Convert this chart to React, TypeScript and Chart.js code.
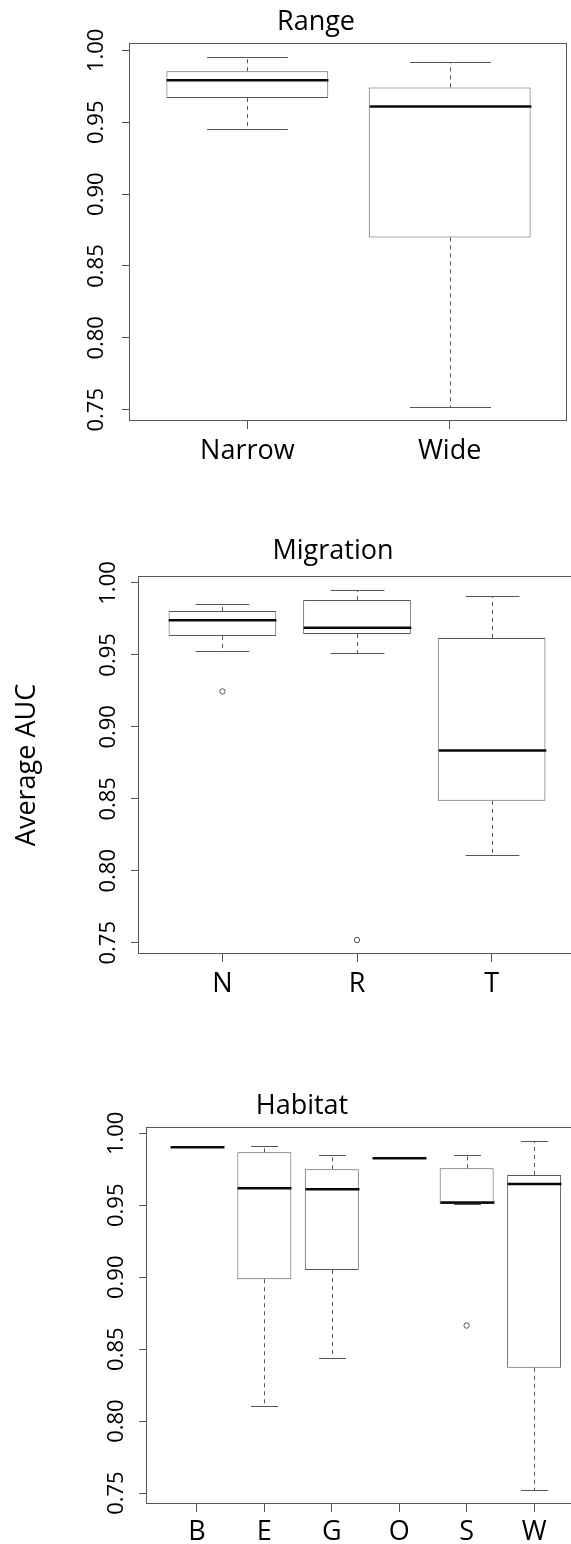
import React, { useEffect, useRef } from "react";
import { Chart, registerables } from "chart.js";

Chart.register(...registerables);

// ---------------- data ----------------
const yTickValues = [0.75, 0.8, 0.85, 0.9, 0.95, 1.0];
const yTickLabels = ["0.75", "0.80", "0.85", "0.90", "0.95", "1.00"];

const rangeCategories = ["Narrow", "Wide"];
const rangeLowerWhisker = [0.9454, 0.7519];
const rangeQ1 = [0.9668, 0.8699];
const rangeMedian = [0.9793, 0.9609];
const rangeQ3 = [0.9855, 0.9742];
const rangeUpperWhisker = [0.9954, 0.9918];
const rangeOutliers: number[][] = [[], []];

const migrationCategories = ["N", "R", "T"];
const migrationLowerWhisker = [0.9524, 0.951, 0.8108];
const migrationQ1 = [0.9631, 0.9645, 0.8486];
const migrationMedian = [0.974, 0.9689, 0.8836];
const migrationQ3 = [0.9805, 0.9882, 0.9618];
const migrationUpperWhisker = [0.9856, 0.9951, 0.9907];
const migrationOutliers: number[][] = [[0.9246], [0.7519], []];

const habitatCategories = ["B", "E", "G", "O", "S", "W"];
const habitatLowerWhisker = [0.9903, 0.8106, 0.8438, 0.9826, 0.9507, 0.7521];
const habitatQ1 = [0.9903, 0.8986, 0.9051, 0.9826, 0.9509, 0.8371];
const habitatMedian = [0.9903, 0.9618, 0.9611, 0.9826, 0.9519, 0.9648];
const habitatQ3 = [0.9903, 0.9868, 0.975, 0.9826, 0.9757, 0.971];
const habitatUpperWhisker = [0.9903, 0.9914, 0.9847, 0.9826, 0.9851, 0.9947];
const habitatOutliers: number[][] = [[], [], [], [], [0.8664], []];

const panelTitles = ["Range", "Migration", "Habitat"];
const yAxisTitle = "Average AUC";

// ---------------- styles / layout ----------------
const FONT = '"Open Sans", "Noto Sans", sans-serif';
const LINE = "#555555";
const MEDIAN = "#0a0a0a";
const TEXT = "#000000";
const BOX_HALF = 0.4;
const STAPLE = 0.5;
const CANVAS_W = 600;

type Area = { left: number; top: number; right: number; bottom: number };
type Layout = {
  top: number;
  height: number;
  area: Area;
  titleX: number;
  titleBaseline: number;
  yTickPad: number;
  xTickPad: number;
  yTitlePad?: number;
};

const layouts: Layout[] = [
  { top: 0, height: 480, area: { left: 130, top: 43, right: 567, bottom: 421 }, titleX: 316, titleBaseline: 29.5, yTickPad: 3.2, xTickPad: 6 },
  { top: 520, height: 500, area: { left: 139, top: 576, right: 575, bottom: 954 }, titleX: 333, titleBaseline: 558.5, yTickPad: 0.8, xTickPad: 6, yTitlePad: 10.8 },
  { top: 1060, height: 484, area: { left: 147, top: 1127, right: 584, bottom: 1504 }, titleX: 302, titleBaseline: 1113.5, yTickPad: 1, xTickPad: 4.5 },
];

type Panel = {
  title: string;
  categories: string[];
  lo: number[];
  q1: number[];
  med: number[];
  q3: number[];
  hi: number[];
  out: number[][];
  yTitle?: string;
};

const panels: Panel[] = [
  { title: panelTitles[0], categories: rangeCategories, lo: rangeLowerWhisker, q1: rangeQ1, med: rangeMedian, q3: rangeQ3, hi: rangeUpperWhisker, out: rangeOutliers },
  { title: panelTitles[1], categories: migrationCategories, lo: migrationLowerWhisker, q1: migrationQ1, med: migrationMedian, q3: migrationQ3, hi: migrationUpperWhisker, out: migrationOutliers, yTitle: yAxisTitle },
  { title: panelTitles[2], categories: habitatCategories, lo: habitatLowerWhisker, q1: habitatQ1, med: habitatMedian, q3: habitatQ3, hi: habitatUpperWhisker, out: habitatOutliers },
];

function makeBoxPlugin(panel: Panel, layout: Layout) {
  return {
    id: "boxLines",
    afterDatasetsDraw(chart: any) {
      const xs = chart.scales.x;
      const ys = chart.scales.y;
      const ctx = chart.ctx as CanvasRenderingContext2D;
      ctx.save();
      for (let i = 0; i < panel.categories.length; i++) {
        const cx = Math.round(xs.getPixelForValue(i + 1)) + 0.5;
        const half = xs.getPixelForValue(i + 1 + BOX_HALF) - xs.getPixelForValue(i + 1);
        const capHalf = half * STAPLE;
        const yLo = ys.getPixelForValue(panel.lo[i]);
        const yQ1 = ys.getPixelForValue(panel.q1[i]);
        const yMed = ys.getPixelForValue(panel.med[i]);
        const yQ3 = ys.getPixelForValue(panel.q3[i]);
        const yHi = ys.getPixelForValue(panel.hi[i]);
        ctx.strokeStyle = LINE;
        ctx.lineWidth = 1;
        ctx.setLineDash([4, 4]);
        ctx.beginPath();
        if (yHi < yQ3 - 0.5) {
          ctx.moveTo(cx, yQ3);
          ctx.lineTo(cx, yHi);
        }
        if (yLo > yQ1 + 0.5) {
          ctx.moveTo(cx, yQ1);
          ctx.lineTo(cx, yLo);
        }
        ctx.stroke();
        ctx.setLineDash([]);
        ctx.beginPath();
        ctx.moveTo(cx - capHalf, Math.round(yHi) + 0.5);
        ctx.lineTo(cx + capHalf, Math.round(yHi) + 0.5);
        ctx.moveTo(cx - capHalf, Math.round(yLo) + 0.5);
        ctx.lineTo(cx + capHalf, Math.round(yLo) + 0.5);
        ctx.stroke();
        ctx.strokeStyle = MEDIAN;
        ctx.lineWidth = 2.5;
        ctx.beginPath();
        ctx.moveTo(cx - half, yMed);
        ctx.lineTo(cx + half, yMed);
        ctx.stroke();
      }
      ctx.restore();
    },
    afterDraw(chart: any) {
      const ctx = chart.ctx as CanvasRenderingContext2D;
      const a = chart.chartArea;
      ctx.save();
      ctx.strokeStyle = LINE;
      ctx.lineWidth = 1;
      ctx.strokeRect(Math.round(a.left) - 0.5, Math.round(a.top) + 0.5, Math.round(a.right - a.left), Math.round(a.bottom - a.top) - 1);
      ctx.fillStyle = TEXT;
      ctx.font = `27px ${FONT}`;
      ctx.textAlign = "center";
      ctx.textBaseline = "alphabetic";
      ctx.fillText(panel.title, layout.titleX, layout.titleBaseline - layout.top);
      ctx.restore();
    },
  };
}

function BoxChart({ panel, layout }: { panel: Panel; layout: Layout }) {
  const ref = useRef<HTMLCanvasElement | null>(null);
  useEffect(() => {
    const canvas = ref.current;
    if (!canvas) return;
    const n = panel.categories.length;
    const xMin = 0.5 - 0.04 * n;
    const xMax = n + 0.5 + 0.04 * n;
    const all = [...panel.lo, ...panel.hi, ...panel.out.flat()];
    const dMin = Math.min(...all);
    const dMax = Math.max(...all);
    const yMin = dMin - 0.04 * (dMax - dMin);
    const yMax = dMax + 0.04 * (dMax - dMin);
    const area = layout.area;
    const xValues = panel.categories.map((_, i) => i + 1);

    const chart = new Chart(canvas, {
      type: "bar",
      data: {
        datasets: [
          {
            type: "bar",
            data: panel.categories.map((_, i) => ({ x: i + 1, y: [panel.q1[i], panel.q3[i]] })) as any,
            backgroundColor: "#ffffff",
            borderColor: LINE,
            borderWidth: 1,
            borderSkipped: false,
            barPercentage: BOX_HALF * 2,
            categoryPercentage: 1,
            order: 2,
          } as any,
          {
            type: "scatter",
            data: panel.out.flatMap((arr, i) => arr.map((v) => ({ x: i + 1, y: v }))),
            pointRadius: 2.7,
            pointBorderColor: LINE,
            pointBackgroundColor: "rgba(0,0,0,0)",
            pointBorderWidth: 1,
            showLine: false,
            order: 1,
          } as any,
        ],
      },
      options: {
        animation: false,
        responsive: false,
        maintainAspectRatio: false,
        devicePixelRatio: 1,
        events: [],
        layout: {
          padding: { left: 0, top: area.top - layout.top, right: CANVAS_W - area.right, bottom: 0 },
        },
        plugins: { legend: { display: false }, tooltip: { enabled: false }, title: { display: false } },
        scales: {
          x: {
            type: "linear",
            min: xMin,
            max: xMax,
            offset: false,
            border: { display: false },
            grid: { drawOnChartArea: false, drawTicks: true, tickLength: 8, color: LINE, offset: false },
            afterBuildTicks: (s: any) => {
              s.ticks = xValues.map((v) => ({ value: v }));
            },
            afterFit: (s: any) => {
              s.height = layout.height - (area.bottom - layout.top);
            },
            ticks: {
              autoSkip: false,
              maxRotation: 0,
              minRotation: 0,
              padding: layout.xTickPad,
              color: TEXT,
              font: { family: FONT, size: 27 },
              callback: (_v: any, i: number) => panel.categories[i],
            },
          },
          y: {
            type: "linear",
            min: yMin,
            max: yMax,
            border: { display: false },
            grid: { drawOnChartArea: false, drawTicks: true, tickLength: 8, color: LINE },
            afterBuildTicks: (s: any) => {
              s.ticks = yTickValues.map((v) => ({ value: v }));
            },
            afterFit: (s: any) => {
              s.width = area.left;
            },
            title: panel.yTitle
              ? {
                  display: true,
                  text: panel.yTitle,
                  color: TEXT,
                  font: { family: FONT, size: 27 },
                  padding: { top: layout.yTitlePad ?? 0, bottom: 0 },
                }
              : { display: false },
            ticks: {
              autoSkip: false,
              minRotation: 90,
              maxRotation: 90,
              crossAlign: "center",
              padding: layout.yTickPad,
              color: TEXT,
              font: { family: FONT, size: 22 },
              callback: (_v: any, i: number) => yTickLabels[i],
            },
          },
        },
      } as any,
      plugins: [makeBoxPlugin(panel, layout)],
    });
    return () => chart.destroy();
  }, [panel, layout]);

  return (
    <canvas
      ref={ref}
      width={CANVAS_W}
      height={layout.height}
      style={{ position: "absolute", left: 0, top: layout.top, width: CANVAS_W, height: layout.height }}
    />
  );
}

export default function App() {
  return (
    <div
      style={{
        position: "absolute",
        left: 0,
        top: 0,
        width: 571,
        height: 1544,
        overflow: "hidden",
        background: "#ffffff",
      }}
    >
      {panels.map((p, i) => (
        <BoxChart key={p.title} panel={p} layout={layouts[i]} />
      ))}
    </div>
  );
}
